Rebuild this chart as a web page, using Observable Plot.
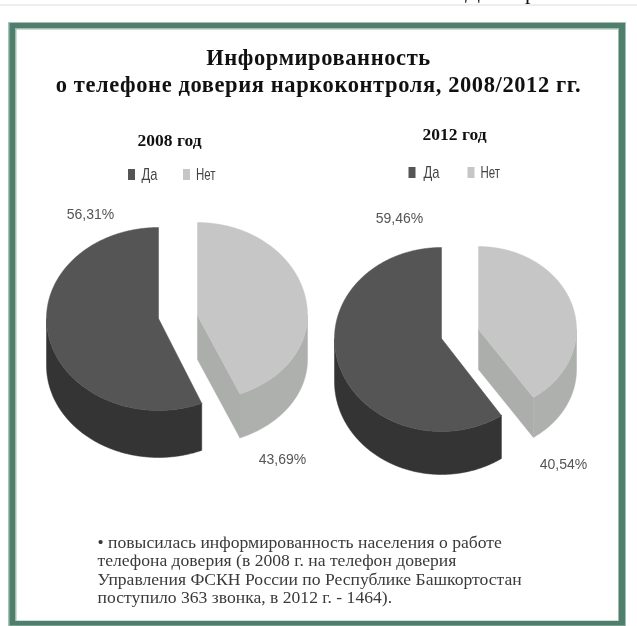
<!DOCTYPE html>
<html><head><meta charset="utf-8">
<script src="https://cdn.jsdelivr.net/npm/d3@7"></script>
<script src="https://cdn.jsdelivr.net/npm/@observablehq/plot@0.6"></script>
<style>html,body{margin:0;padding:0;background:#fff}svg{display:block;filter:blur(.45px)}</style>
</head><body><div id="c"></div>
<script>
const years = ["2008 год", "2012 год"];
const categories = ["Да", "Нет"];
const yesShares = [56.31, 59.46];
const noShares = [43.69, 40.54];
const yesLabels = ["56,31%", "59,46%"];
const noLabels = ["43,69%", "40,54%"];
const titleLines = ["Информированность", "о телефоне доверия наркоконтроля, 2008/2012 гг."];
const noteLines = [
  "• повысилась информированность населения о работе",
  "телефона доверия (в 2008 г. на телефон доверия",
  "Управления ФСКН России по Республике Башкортостан",
  "поступило 363 звонка, в 2012 г. - 1464)."
];

// Drawing geometry of each exploded slice, in page pixels
const W = 637, H = 626;
const yesGeom = [
  {cx: 158, cy: 318, rx: 112, up: 91, down: 92, depth: 47},
  {cx: 441, cy: 338, rx: 107, up: 91, down: 93, depth: 43}
];
const noGeom = [
  {cx: 197, cy: 315, rx: 110, up: 93, down: 85, depth: 44},
  {cx: 478, cy: 329, rx: 98, up: 83, down: 82, depth: 40}
];
const yearX = [169, 454], yearY = [140, 134];
const legendY = [174.5, 172.5];
const legendSwatchX = [[128, 183], [408.5, 467.5]];
const legendTextX = [[141, 195.5], [423, 480]];
const legendTextW = [16, 19.5];
const yesLabelPos = [[90, 214], [399, 218]];
const noLabelPos = [[282, 459], [563, 464]];

const DARK_TOP = "#555555", DARK_SIDE = "#343434", LIGHT_TOP = "#c6c6c6", LIGHT_SIDE = "#aeb0ae", LIGHT_FACE = "#acaeac";

const pt = (g, deg, dz = 0) => {
  const t = deg * Math.PI / 180, c = Math.cos(t);
  return {x: g.cx + g.rx * Math.sin(t), y: g.cy - (c > 0 ? g.up : g.down) * c + dz};
};
const arc = (g, a, b, dz = 0) => {
  const n = Math.ceil(Math.abs(b - a) * 2);
  return d3.range(n + 1).map(i => pt(g, a + (b - a) * i / n, dz));
};
const poly = (pts, fill) => Plot.line([...pts, pts[0]], {x: "x", y: "y", fill, stroke: fill, strokeWidth: 0.5, curve: "linear"});
const box = (x1, y1, x2, y2, fill) => Plot.rect([0], {x1: () => x1, x2: () => x2, y1: () => y1, y2: () => y2, fill});

const marks = [];
// page rule and the clipped text of the page above
marks.push(Plot.ruleY([4.5], {stroke: "#e8e8e8", strokeWidth: 1.5}));
marks.push(Plot.text(["Д", "р"], {x: [472, 530], y: [-3, -2], lineAnchor: "bottom", fontFamily: "Liberation Serif", fontSize: 22, fill: "#111"}));
// frame
marks.push(box(8, 22, 626, 626, "#a4c2b6"));
marks.push(box(9.5, 23, 625, 625.5, "#4f7f6c"));
marks.push(box(15, 28, 619, 621, "#9cbdaf"));
marks.push(box(16.5, 29.5, 618, 620.5, "#ffffff"));

// title
titleLines.forEach((s, i) => marks.push(Plot.text([s], {x: () => 318, y: () => [57, 84][i], fontFamily: "Liberation Serif", fontWeight: "bold", fontSize: 22.5, fill: "#111", className: "ttl"})));

years.forEach((yr, i) => {
  marks.push(Plot.text([yr], {x: () => yearX[i], y: () => yearY[i], fontFamily: "Liberation Serif", fontWeight: "bold", fontSize: 17.5, fill: "#111"}));
  categories.forEach((c, j) => {
    const sx = legendSwatchX[i][j], ly = legendY[i];
    marks.push(box(sx, ly - 5.5, sx + 7, ly + 5.5, j ? LIGHT_TOP : DARK_TOP));
    marks.push(Plot.text([c], {x: () => legendTextX[i][j], y: () => ly, textAnchor: "start", fontFamily: "Liberation Sans", fontSize: 17, fill: "#444", className: "lg" + j}));
  });

  const cut = noShares[i] * 3.6; // clockwise from 12 o'clock: "Нет", then "Да"
  // "Да" slice
  const gy = yesGeom[i];
  marks.push(poly([...arc(gy, cut, 270), ...arc(gy, 270, cut, gy.depth)], DARK_SIDE));
  marks.push(poly([{x: gy.cx, y: gy.cy}, ...arc(gy, cut, 360)], DARK_TOP));
  // "Нет" slice
  const gn = noGeom[i];
  marks.push(poly([...arc(gn, 90, cut), ...arc(gn, cut, 90, gn.depth)], LIGHT_SIDE));
  const tip = pt(gn, cut);
  marks.push(poly([{x: gn.cx, y: gn.cy}, tip, {x: tip.x, y: tip.y + gn.depth}, {x: gn.cx, y: gn.cy + gn.depth}], LIGHT_FACE));
  marks.push(poly([{x: gn.cx, y: gn.cy}, ...arc(gn, 0, cut)], LIGHT_TOP));

  marks.push(Plot.text([yesLabels[i]], {x: () => yesLabelPos[i][0], y: () => yesLabelPos[i][1], fontFamily: "Liberation Sans", fontSize: 14, fill: "#555"}));
  marks.push(Plot.text([noLabels[i]], {x: () => noLabelPos[i][0], y: () => noLabelPos[i][1], fontFamily: "Liberation Sans", fontSize: 14, fill: "#555"}));
});

// note
noteLines.forEach((s, i) => marks.push(Plot.text([s], {x: () => 97, y: () => [542, 560, 579, 597][i], textAnchor: "start", fontFamily: "Liberation Serif", fontSize: 17.6, fill: "#3a3a3a"})));

const chart = Plot.plot({
  width: W, height: H, margin: 0,
  x: {type: "identity", axis: null}, y: {type: "identity", axis: null},
  style: {background: "transparent", overflow: "hidden"},
  marks
});
chart.querySelectorAll('.ttl text, g.ttl text').forEach(t => { t.style.letterSpacing = "0.6px"; });
chart.querySelectorAll('.lg0 text').forEach(t => { t.setAttribute("textLength", legendTextW[0]); t.setAttribute("lengthAdjust", "spacingAndGlyphs"); });
chart.querySelectorAll('.lg1 text').forEach(t => { t.setAttribute("textLength", legendTextW[1]); t.setAttribute("lengthAdjust", "spacingAndGlyphs"); });
document.getElementById("c").append(chart);
</script></body></html>
